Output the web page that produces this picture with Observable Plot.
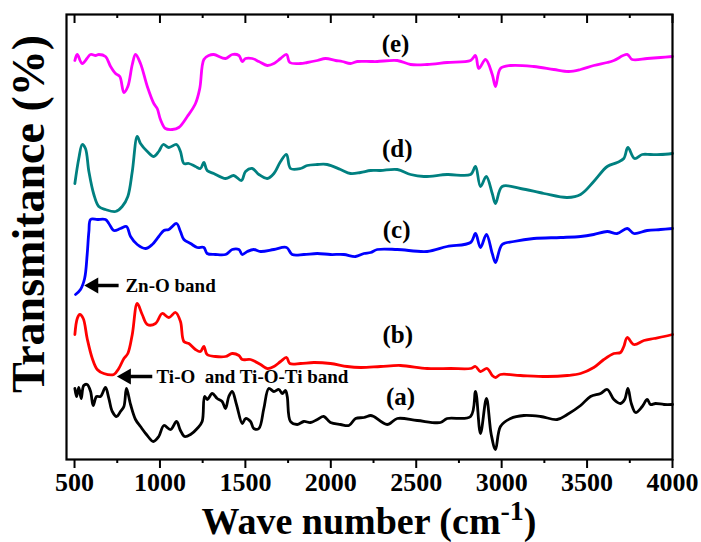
<!DOCTYPE html>
<html>
<head>
<meta charset="utf-8">
<script src="https://cdn.jsdelivr.net/npm/d3@7"></script>
<script src="https://cdn.jsdelivr.net/npm/@observablehq/plot@0.6"></script>
<style>
  body { margin: 0; background: #fff; }
  #chart svg { display: block; }
</style>
</head>
<body>
<div id="chart"></div>
<script>
// Wavenumber (cm^-1), transmittance (arbitrary offset units) pairs
const seriesE = [[502,399],[516,405],[545,396],[594,405],[623,404],[642,405],[681,403],[711,393],[740,386],[765,383],[789,367],[812,373],[838,395],[857,405],[886,396],[926,373],[964,356],[984,351],[1003,340],[1032,331],[1072,330],[1110,332],[1160,343],[1208,356],[1233,371],[1257,400],[1286,404],[1315,405],[1384,401],[1423,405],[1462,404],[1482,398],[1501,401],[1540,401],[1579,398],[1628,394],[1667,396],[1706,401],[1741,405],[1760,397],[1823,396],[1862,397],[1921,399],[1969,401],[2028,399],[2067,398],[2115,396],[2155,398],[2233,398],[2272,398],[2389,399],[2467,395],[2564,395],[2681,397],[2818,399],[2847,404],[2866,391],[2906,400],[2945,385],[2964,373],[2993,391],[3052,394],[3188,393],[3305,390],[3393,388],[3462,390],[3539,394],[3618,397],[3657,399],[3735,405],[3764,400],[3852,401],[3930,402],[4000,403]];
const seriesD = [[502,276],[525,301],[545,315],[564,311],[584,288],[613,265],[642,253],[681,250],[740,248],[779,253],[812,263],[838,288],[867,323],[886,316],[926,308],[964,303],[993,308],[1019,315],[1052,312],[1097,315],[1120,308],[1140,296],[1169,296],[1208,293],[1237,291],[1257,297],[1276,289],[1315,286],[1384,281],[1432,284],[1477,279],[1501,288],[1540,291],[1579,285],[1628,281],[1667,286],[1706,298],[1741,305],[1764,291],[1823,291],[1862,294],[1921,295],[1979,295],[2057,290],[2115,286],[2174,287],[2233,289],[2291,289],[2389,290],[2467,285],[2545,283],[2681,285],[2818,285],[2847,293],[2876,273],[2910,283],[2945,266],[2964,256],[3003,273],[3110,271],[3247,266],[3384,262],[3462,265],[3539,278],[3618,293],[3676,297],[3715,301],[3739,312],[3778,301],[3823,305],[3871,305],[3930,305],[4000,306]];
const seriesC = [[506,165],[535,170],[559,181],[574,205],[584,228],[594,240],[633,240],[681,240],[701,236],[730,229],[769,231],[804,233],[828,223],[867,215],[916,211],[955,215],[993,223],[1023,229],[1052,230],[1097,236],[1120,228],[1140,220],[1179,216],[1218,212],[1257,212],[1276,206],[1325,205],[1384,205],[1423,210],[1462,210],[1482,205],[1511,208],[1549,210],[1589,208],[1667,210],[1741,212],[1774,205],[1842,205],[1921,206],[1998,205],[2076,205],[2145,203],[2194,206],[2233,207],[2272,210],[2389,210],[2564,208],[2681,213],[2818,217],[2847,226],[2876,212],[2911,225],[2945,206],[2964,197],[3003,215],[3071,218],[3188,221],[3345,222],[3462,223],[3539,225],[3618,228],[3676,226],[3735,231],[3774,226],[3852,229],[3930,230],[4000,231]];
const seriesB = [[502,125],[516,141],[531,145],[551,141],[574,121],[604,101],[633,90],[671,86],[730,85],[759,91],[789,101],[812,106],[838,125],[867,156],[896,145],[926,135],[974,136],[1013,146],[1052,142],[1091,147],[1120,138],[1140,118],[1169,116],[1208,110],[1237,108],[1257,113],[1276,105],[1325,103],[1384,103],[1423,106],[1462,104],[1482,100],[1530,100],[1589,95],[1628,91],[1667,93],[1706,98],[1741,102],[1760,96],[1823,96],[1901,97],[1998,96],[2096,93],[2174,92],[2291,93],[2408,94],[2564,91],[2701,91],[2818,91],[2847,93],[2876,88],[2915,91],[2945,84],[2964,82],[2993,85],[3110,84],[3267,83],[3384,84],[3462,86],[3539,92],[3598,100],[3657,106],[3696,107],[3715,113],[3735,122],[3774,115],[3833,119],[3891,121],[3950,123],[4000,125]];
const seriesA = [[502,71],[512,63],[525,72],[539,61],[554,74],[574,75],[594,68],[609,54],[629,63],[652,63],[681,72],[701,61],[721,48],[746,43],[769,48],[789,53],[804,71],[828,55],[857,40],[886,33],[921,25],[961,18],[993,23],[1023,34],[1062,30],[1097,38],[1120,29],[1144,23],[1179,25],[1218,31],[1247,38],[1261,63],[1277,60],[1306,66],[1335,61],[1364,58],[1384,51],[1403,63],[1423,68],[1448,55],[1482,36],[1501,41],[1530,38],[1549,31],[1579,31],[1608,51],[1637,71],[1667,68],[1696,70],[1716,66],[1735,69],[1745,63],[1764,38],[1803,35],[1842,38],[1881,37],[1921,40],[1959,43],[1998,37],[2057,35],[2106,34],[2145,41],[2194,42],[2233,44],[2252,43],[2330,35],[2389,41],[2506,39],[2642,37],[2681,41],[2818,43],[2847,68],[2876,26],[2911,61],[2939,25],[2964,10],[2993,33],[3052,41],[3130,44],[3228,43],[3325,40],[3384,45],[3462,54],[3520,63],[3579,66],[3618,70],[3657,60],[3696,56],[3720,60],[3739,71],[3759,56],[3784,47],[3823,53],[3852,60],[3871,55],[3901,56],[3950,55],[4000,55]];

const seriesNames = ["(a)", "(b)", "(c)", "(d)", "(e)"];
const seriesColors = ["#000000", "#ff0000", "#0000ff", "#008080", "#ff00ff"];
const seriesData = [seriesA, seriesB, seriesC, seriesD, seriesE];

const majorTicks = [500, 1000, 1500, 2000, 2500, 3000, 3500, 4000];
const minorTicks = [750, 1250, 1750, 2250, 2750, 3250, 3750];

// Curve labels (position in data space)
const curveLabels = [
  {text: "(e)", x: 2379, y: 416},
  {text: "(d)", x: 2389, y: 311},
  {text: "(c)", x: 2385, y: 230},
  {text: "(b)", x: 2392, y: 125},
  {text: "(a)", x: 2408, y: 63}
];
// Band annotations: arrow tip, arrow tail, text start
const bandNotes = [
  {text: "Zn-O band", tip: 588, tail: 758, tx: 798, y: 174},
  {text: "Ti-O\u00a0 and Ti-O-Ti band", tip: 779, tail: 955, tx: 980, y: 83}
];

const rows = seriesData.flatMap((s, i) => s.map(([w, t]) => ({series: seriesNames[i], w, t})));

const FONT = "Liberation Serif, Times New Roman, Tinos, DejaVu Serif, Noto Serif, serif";
const frameH = 459 - 14;

const chart = Plot.plot({
  width: 701,
  height: 542,
  marginLeft: 66,
  marginRight: 29,
  marginTop: 14,
  marginBottom: 83,
  style: {fontFamily: FONT, fontWeight: "bold", background: "#fff", overflow: "visible"},
  x: {domain: [453, 4000]},
  y: {domain: [0, 445], axis: null},
  color: {domain: seriesNames, range: seriesColors},
  marks: [
    Plot.line(rows, {x: "w", y: "t", z: "series", stroke: "series", strokeWidth: 2.8, curve: "catmull-rom"}),
    Plot.frame({stroke: "#000", strokeWidth: 2.2}),
    Plot.axisX(majorTicks, {anchor: "bottom", tickSize: 9, tickPadding: 4, fontSize: 26, fontWeight: "bold", fontFamily: FONT, strokeWidth: 2, label: null, tickFormat: d => String(d)}),
    Plot.axisX(minorTicks, {anchor: "bottom", tickSize: 4, tickFormat: () => "", strokeWidth: 2, label: null}),
    Plot.ruleX(majorTicks, {x: d => d, insetBottom: frameH - 9, stroke: "#000", strokeWidth: 2}),
    Plot.ruleX(minorTicks, {x: d => d, insetBottom: frameH - 4, stroke: "#000", strokeWidth: 2}),
    Plot.text(curveLabels, {x: "x", y: "y", text: "text", fontSize: 25, fontWeight: "bold", fontFamily: FONT, fill: "#000"}),
    Plot.link(bandNotes, {x1: "tail", x2: "tip", y1: "y", y2: "y", stroke: "#000", strokeWidth: 3.5}),
    Plot.dot(bandNotes, {x: "tip", y: "y", symbol: "triangle", rotate: -90, r: 6, fill: "#000", stroke: "none", dx: 4}),
    Plot.text(bandNotes, {x: "tx", y: "y", text: "text", textAnchor: "start", fontSize: 19, fontWeight: "bold", fontFamily: FONT, fill: "#000"})
  ]
});

const svg = d3.select(chart);
// Y axis title
svg.append("text")
  .attr("transform", "translate(44,214) rotate(-90)")
  .attr("text-anchor", "middle")
  .style("font-family", FONT)
  .attr("font-weight", "bold")
  .attr("font-size", 46)
  .attr("fill", "#000")
  .text("Transmitance (%)");
// X axis title with superscript
const xt = svg.append("text")
  .attr("x", 369)
  .attr("y", 534)
  .attr("text-anchor", "middle")
  .style("font-family", FONT)
  .attr("font-weight", "bold")
  .attr("font-size", 38)
  .attr("fill", "#000");
xt.append("tspan").text("Wave number (cm");
xt.append("tspan").attr("font-size", 28).attr("dy", -14).text("-1");
xt.append("tspan").attr("dy", 14).text(")");

document.getElementById("chart").appendChild(chart);
</script>
</body>
</html>
